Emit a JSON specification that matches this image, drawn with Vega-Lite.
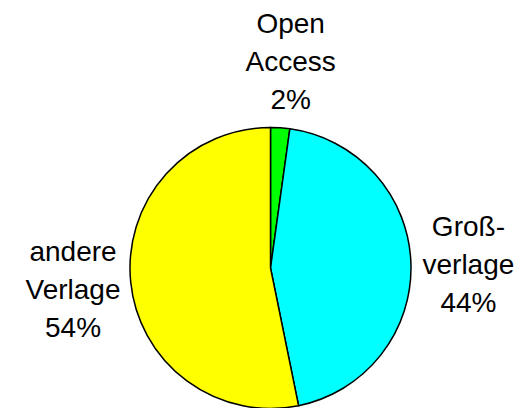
{
  "$schema": "https://vega.github.io/schema/vega-lite/v6.json",
  "autosize": "none",
  "padding": 0,
  "width": 541,
  "height": 536,
  "background": "white",
  "view": {"stroke": null},
  "data": {
    "values": [
      {"idx": 1, "category": "Open Access", "share": 2.2, "label": "Open\nAccess\n2%"},
      {"idx": 2, "category": "Großverlage", "share": 44.6, "label": "Groß-\nverlage\n44%"},
      {"idx": 3, "category": "andere Verlage", "share": 53.2, "label": "andere\nVerlage\n54%"}
    ]
  },
  "encoding": {
    "theta": {"field": "share", "type": "quantitative", "stack": true},
    "order": {"field": "idx", "type": "quantitative"}
  },
  "layer": [
    {
      "mark": {"type": "arc", "outerRadius": 140.5, "stroke": "black", "strokeWidth": 1.5},
      "encoding": {
        "color": {
          "field": "category",
          "type": "nominal",
          "scale": {"domain": ["Open Access", "Großverlage", "andere Verlage"], "range": ["#00FF00", "#00FFFF", "#FFFF00"]},
          "legend": null
        }
      }
    },
    {
      "mark": {"type": "text", "radius": 205, "dx": 6, "dy": -38.5, "font": "Liberation Sans", "fontSize": 28, "lineHeight": 38, "lineBreak": "\n", "align": "center", "baseline": "middle", "color": "black"},
      "encoding": {
        "text": {"condition": {"test": "datum.idx === 1", "field": "label"}, "value": ""}
      }
    },
    {
      "mark": {"type": "text", "radius": 198, "dy": -34, "font": "Liberation Sans", "fontSize": 28, "lineHeight": 38, "lineBreak": "\n", "align": "center", "baseline": "middle", "color": "black"},
      "encoding": {
        "text": {"condition": {"test": "datum.idx === 2", "field": "label"}, "value": ""}
      }
    },
    {
      "mark": {"type": "text", "radius": 198.5, "dy": -35, "font": "Liberation Sans", "fontSize": 28, "lineHeight": 38, "lineBreak": "\n", "align": "center", "baseline": "middle", "color": "black"},
      "encoding": {
        "text": {"condition": {"test": "datum.idx === 3", "field": "label"}, "value": ""}
      }
    }
  ]
}
